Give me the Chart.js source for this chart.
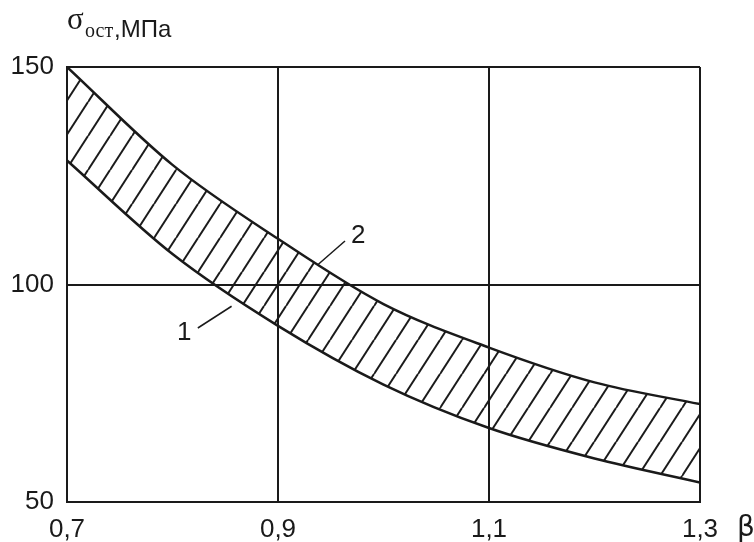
<!DOCTYPE html>
<html>
<head>
<meta charset="utf-8">
<script src="https://cdn.jsdelivr.net/npm/chart.js@4/dist/chart.umd.min.js"></script>
<style>
    html, body { margin: 0; padding: 0; background: #fff; }
    #wrap { width: 754px; height: 542px; }
</style>
</head>
<body>
<div id="wrap"><canvas id="stress-chart" width="754" height="542"></canvas></div>
<script>
// Residual stress band vs. beta: curve 2 is the upper bound, curve 1 the lower bound
const betaValues = [0.7, 0.8, 0.9, 1.0, 1.1, 1.2, 1.3];
const upperStress = [150, 127.5, 110.5, 95.5, 85.5, 77.5, 72.5];   // curve 2
const lowerStress = [128.5, 107, 90.5, 77, 67, 60, 54.5];         // curve 1

const xTicks = [0.7, 0.9, 1.1, 1.3];
const xTickLabels = ['0,7', '0,9', '1,1', '1,3'];
const yTicks = [50, 100, 150];
const yTickLabels = ['50', '100', '150'];

// Curve numbers with their leader lines, in data units
const curveTags = [
    { text: '2', at: [0.976, 111.3], from: [0.9635, 110.0], to: [0.938, 104.6] },
    { text: '1', at: [0.811, 89.0], from: [0.824, 90.0], to: [0.856, 95.0] }
];

const ink = '#1a1a1a';

// Diagonal hatch tile for the band between the curves
function makeHatch(w, h) {
    const tile = document.createElement('canvas');
    tile.width = w;
    tile.height = h;
    const t = tile.getContext('2d');
    t.strokeStyle = ink;
    t.lineWidth = 2;
    for (let n = 0; n <= 2; n++) {
        t.beginPath();
        t.moveTo(n * w, 0);
        t.lineTo((n - 1) * w, h);
        t.stroke();
    }
    return t.createPattern(tile, 'repeat');
}

const toPoints = (ys) => betaValues.map((x, i) => ({ x: x, y: ys[i] }));

// Axis title and curve tags
const extrasPlugin = {
    id: 'extras',
    afterDatasetsDraw(chart) {
        const ctx = chart.ctx;
        const xs = chart.scales.x, ys = chart.scales.y;
        ctx.save();
        ctx.fillStyle = ink;
        ctx.strokeStyle = ink;

        // leader lines and numbers
        ctx.lineWidth = 1.5;
        curveTags.forEach(tag => {
            ctx.beginPath();
            ctx.moveTo(xs.getPixelForValue(tag.from[0]), ys.getPixelForValue(tag.from[1]));
            ctx.lineTo(xs.getPixelForValue(tag.to[0]), ys.getPixelForValue(tag.to[1]));
            ctx.stroke();
            ctx.font = '26px "Liberation Sans", Arial, sans-serif';
            ctx.textAlign = 'center';
            ctx.textBaseline = 'middle';
            ctx.fillText(tag.text, xs.getPixelForValue(tag.at[0]), ys.getPixelForValue(tag.at[1]));
        });

        // y title: sigma with subscript, then units
        const left = chart.chartArea.left;
        ctx.textAlign = 'left';
        ctx.textBaseline = 'alphabetic';
        ctx.font = '31px "Liberation Serif", "Times New Roman", serif';
        ctx.fillText('σ', left, 29);
        ctx.font = '20px "Liberation Serif", "Times New Roman", serif';
        ctx.fillText('ост', left + 18, 37);
        ctx.font = '24px "Liberation Sans", Arial, sans-serif';
        ctx.fillText(',МПа', left + 47, 37);

        // x title
        ctx.font = '28px "DejaVu Sans", sans-serif';
        ctx.fillText('β', chart.chartArea.right + 37, 536);
        ctx.restore();
    }
};

document.addEventListener('DOMContentLoaded', () => {
    const canvas = document.getElementById('stress-chart');

    new Chart(canvas.getContext('2d'), {
        type: 'line',
        data: {
            datasets: [
                {
                    label: '2',
                    data: toPoints(upperStress),
                    borderColor: ink,
                    borderWidth: 2.5,
                    backgroundColor: makeHatch(22, 34),
                    fill: '+1',
                    pointRadius: 0,
                    cubicInterpolationMode: 'monotone'
                },
                {
                    label: '1',
                    data: toPoints(lowerStress),
                    borderColor: ink,
                    borderWidth: 2.5,
                    fill: false,
                    pointRadius: 0,
                    cubicInterpolationMode: 'monotone'
                }
            ]
        },
        options: {
            responsive: false,
            animation: false,
            events: [],
            layout: { padding: { left: 0, top: 67, right: 54, bottom: 0 } },
            plugins: {
                legend: { display: false },
                tooltip: { enabled: false }
            },
            scales: {
                x: {
                    type: 'linear',
                    min: 0.7,
                    max: 1.3,
                    afterBuildTicks: axis => { axis.ticks = xTicks.map(v => ({ value: v })); },
                    afterFit: axis => { axis.height = 40; },
                    grid: { color: ink, lineWidth: 2, drawTicks: false },
                    border: { color: ink, width: 2 },
                    ticks: {
                        color: ink,
                        padding: 12,
                        maxRotation: 0,
                        autoSkip: false,
                        font: { family: '"Liberation Sans", Arial, sans-serif', size: 26 },
                        callback: (value, index) => xTickLabels[index]
                    }
                },
                y: {
                    type: 'linear',
                    min: 50,
                    max: 150,
                    afterBuildTicks: axis => { axis.ticks = yTicks.map(v => ({ value: v })); },
                    afterFit: axis => { axis.width = 67; },
                    grid: { color: ink, lineWidth: 2, drawTicks: false },
                    border: { color: ink, width: 2 },
                    ticks: {
                        color: ink,
                        padding: 13,
                        autoSkip: false,
                        font: { family: '"Liberation Sans", Arial, sans-serif', size: 26 },
                        callback: (value, index) => yTickLabels[index]
                    }
                }
            }
        },
        plugins: [extrasPlugin]
    });
});
</script>
</body>
</html>
